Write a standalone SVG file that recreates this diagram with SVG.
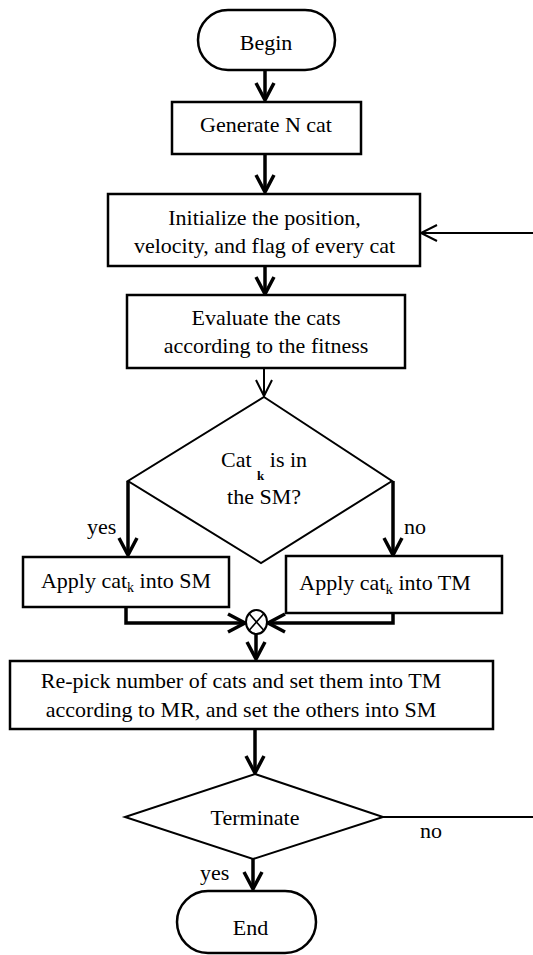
<svg xmlns="http://www.w3.org/2000/svg" width="533" height="955" viewBox="0 0 533 955">
  <defs>
    <style>
      .box { fill: #fff; stroke: #000; stroke-width: 2.5; }
      .dia { fill: #fff; stroke: #000; stroke-width: 2; }
      .lbl { font-family: "Liberation Serif", "Times New Roman", serif; font-size: 22px; fill: #000; }
      .mid { text-anchor: middle; }
      .thick { fill: none; stroke: #000; stroke-width: 3.5; }
      .thin { fill: none; stroke: #000; stroke-width: 2; }
    </style>
    <marker id="headThick" markerUnits="userSpaceOnUse" viewBox="-20 -12 24 24" refX="0" refY="0" markerWidth="24" markerHeight="24" orient="auto" overflow="visible">
      <path d="M -17 -9 L 0 0 L -17 9" fill="none" stroke="#000" stroke-width="3.5"/>
    </marker>
    <marker id="headThin" markerUnits="userSpaceOnUse" viewBox="-20 -12 24 24" refX="0" refY="0" markerWidth="24" markerHeight="24" orient="auto" overflow="visible">
      <path d="M -16 -8 L 0 0 L -16 8" fill="none" stroke="#000" stroke-width="2"/>
    </marker>
  </defs>

  <rect width="533" height="955" fill="#fff"/>

  <g id="connectors">
    <line class="thick" x1="265" y1="70" x2="265" y2="100" marker-end="url(#headThick)"/>
    <line class="thick" x1="265" y1="154" x2="265" y2="192" marker-end="url(#headThick)"/>
    <line class="thin" x1="533" y1="233" x2="421" y2="233" marker-end="url(#headThin)"/>
    <line class="thick" x1="265" y1="266" x2="265" y2="294" marker-end="url(#headThick)"/>
    <line class="thin" x1="264" y1="368" x2="264" y2="396" marker-end="url(#headThin)"/>
    <line class="thick" x1="128" y1="481" x2="128" y2="555" marker-end="url(#headThick)"/>
    <line class="thick" x1="393" y1="481" x2="393" y2="555" marker-end="url(#headThick)"/>
    <polyline class="thick" points="126,607 126,623 245,623" marker-end="url(#headThick)"/>
    <polyline class="thick" points="393,613 393,623 268,623" marker-end="url(#headThick)"/>
    <line class="thick" x1="256" y1="634" x2="256" y2="659" marker-end="url(#headThick)"/>
    <line class="thick" x1="255" y1="729" x2="255" y2="773" marker-end="url(#headThick)"/>
    <line class="thin" x1="383" y1="817" x2="533" y2="817"/>
    <line class="thick" x1="253" y1="859" x2="253" y2="889" marker-end="url(#headThick)"/>
    <text class="lbl" x="87" y="534">yes</text>
    <text class="lbl" x="404" y="534">no</text>
    <text class="lbl" x="420" y="838">no</text>
    <text class="lbl" x="200" y="880">yes</text>
  </g>

  <g id="begin">
    <rect class="box" x="198" y="10" width="137" height="60" rx="30"/>
    <text class="lbl mid" x="266" y="49.5">Begin</text>
  </g>

  <g id="generate">
    <rect class="box" x="172" y="102" width="189" height="52"/>
    <text class="lbl mid" x="266" y="132">Generate N cat</text>
  </g>

  <g id="initialize">
    <rect class="box" x="108" y="194" width="312" height="72"/>
    <text class="lbl mid" x="264.5" y="225">Initialize the position,</text>
    <text class="lbl mid" x="264.5" y="253">velocity, and flag of every cat</text>
  </g>

  <g id="evaluate">
    <rect class="box" x="127" y="295" width="278" height="73"/>
    <text class="lbl mid" x="266" y="325">Evaluate the cats</text>
    <text class="lbl mid" x="266" y="353">according to the fitness</text>
  </g>

  <g id="decision-sm">
    <polygon class="dia" points="264,397 392,481 261,563 128,481"/>
    <text class="lbl" x="221" y="467">Cat <tspan font-size="13" font-weight="bold" dy="13">k</tspan><tspan dy="-13"> is in</tspan></text>
    <text class="lbl mid" x="264" y="504">the SM?</text>
  </g>

  <g id="apply-sm">
    <rect class="box" x="23" y="557" width="206" height="50"/>
    <text class="lbl mid" x="126" y="588">Apply cat<tspan font-size="14" dy="4">k</tspan><tspan dy="-4"> into SM</tspan></text>
  </g>

  <g id="apply-tm">
    <rect class="box" x="286" y="556" width="216" height="57"/>
    <text class="lbl mid" x="385" y="590" font-size="24">Apply cat<tspan font-size="15" dy="4">k</tspan><tspan dy="-4"> into TM</tspan></text>
  </g>

  <g id="merge">
    <ellipse cx="256.5" cy="622" rx="10.5" ry="12" fill="#fff" stroke="#000" stroke-width="2"/>
    <path d="M 249 613.5 L 264 630.5 M 264 613.5 L 249 630.5" stroke="#000" stroke-width="1.6" fill="none"/>
  </g>

  <g id="repick">
    <rect class="box" x="10" y="661" width="483" height="68"/>
    <text class="lbl mid" x="241" y="688">Re-pick number of cats and set them into TM</text>
    <text class="lbl mid" x="241" y="717">according to MR, and set the others into SM</text>
  </g>

  <g id="terminate">
    <polygon class="dia" points="255,774 383,817 253,859 125,817"/>
    <text class="lbl mid" x="255" y="825">Terminate</text>
  </g>

  <g id="end">
    <rect class="box" x="177" y="891" width="139" height="62" rx="31"/>
    <text class="lbl mid" x="250.5" y="935" font-size="26">End</text>
  </g>
</svg>
